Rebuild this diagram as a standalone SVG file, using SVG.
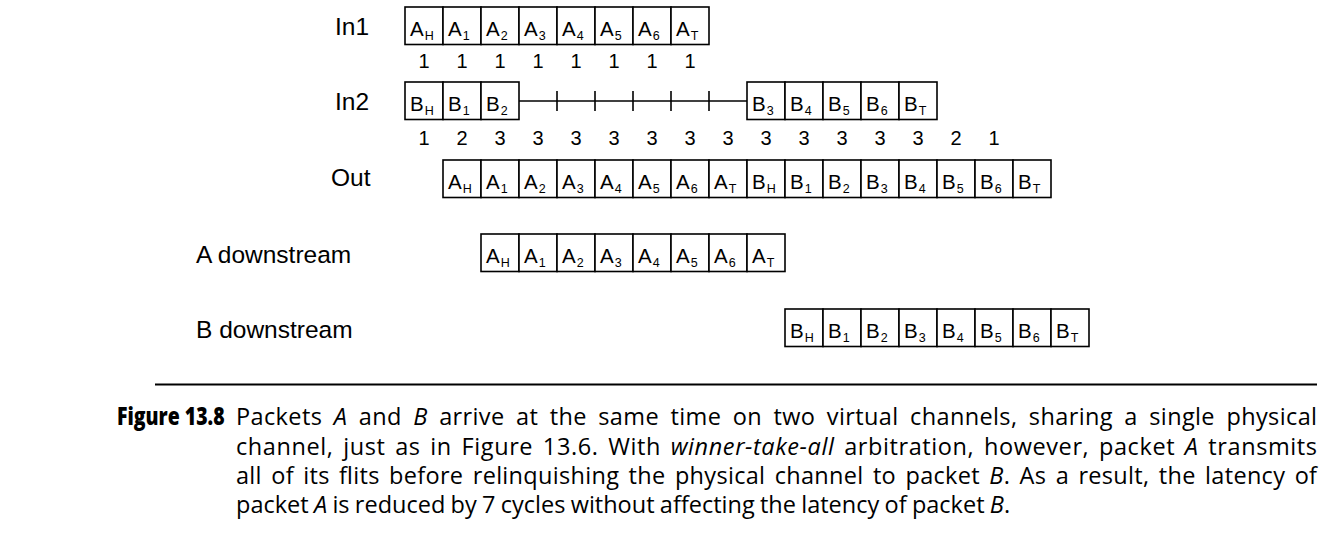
<svg xmlns="http://www.w3.org/2000/svg" width="1327" height="553" viewBox="0 0 1327 553">
<style>
.bg{fill:#fff}
.cell{fill:#fff;stroke:#000;stroke-width:1.6}
.ft{font-family:"Liberation Sans",Arial,sans-serif;font-size:20.5px;fill:#000}
.sub{font-size:12.5px}
.num{font-family:"Liberation Sans",Arial,sans-serif;font-size:20px;fill:#000;text-anchor:middle}
.lbl{font-family:"Liberation Sans",Arial,sans-serif;font-size:24.5px;fill:#000}
.conn{stroke:#000;stroke-width:1.6;fill:none}
.cap{font-family:"Open Sans","Noto Sans",sans-serif;font-size:23.5px;fill:#000}
.capb{font-family:"Open Sans","Noto Sans",sans-serif;font-size:24px;font-weight:800;fill:#000}
.it{font-style:italic}
</style>
<defs>
<rect id="c" class="cell" width="38" height="37.5"/>
</defs>
<rect class="bg" width="1327" height="553"/>

<g id="labels">
<text class="lbl" x="335" y="35">In1</text>
<text class="lbl" x="335" y="110">In2</text>
<text class="lbl" x="331" y="186">Out</text>
<text class="lbl" x="196" y="263">A downstream</text>
<text class="lbl" x="196" y="338">B downstream</text>
</g>

<g id="connectors">
<line class="conn" x1="519" y1="101" x2="747" y2="101"/>
<line class="conn" x1="557" y1="91" x2="557" y2="111"/>
<line class="conn" x1="595" y1="91" x2="595" y2="111"/>
<line class="conn" x1="633" y1="91" x2="633" y2="111"/>
<line class="conn" x1="671" y1="91" x2="671" y2="111"/>
<line class="conn" x1="709" y1="91" x2="709" y2="111"/>
</g>

<g id="in1">
<use href="#c" x="405" y="7"/><use href="#c" x="443" y="7"/><use href="#c" x="481" y="7"/><use href="#c" x="519" y="7"/>
<use href="#c" x="557" y="7"/><use href="#c" x="595" y="7"/><use href="#c" x="633" y="7"/><use href="#c" x="671" y="7"/>
<text class="ft" x="410" y="36">A<tspan class="sub" dx="1" dy="4">H</tspan></text>
<text class="ft" x="448" y="36">A<tspan class="sub" dx="1" dy="4">1</tspan></text>
<text class="ft" x="486" y="36">A<tspan class="sub" dx="1" dy="4">2</tspan></text>
<text class="ft" x="524" y="36">A<tspan class="sub" dx="1" dy="4">3</tspan></text>
<text class="ft" x="562" y="36">A<tspan class="sub" dx="1" dy="4">4</tspan></text>
<text class="ft" x="600" y="36">A<tspan class="sub" dx="1" dy="4">5</tspan></text>
<text class="ft" x="638" y="36">A<tspan class="sub" dx="1" dy="4">6</tspan></text>
<text class="ft" x="676" y="36">A<tspan class="sub" dx="1" dy="4">T</tspan></text>
</g>

<g id="in1-counts">
<text class="num" x="424" y="68">1</text><text class="num" x="462" y="68">1</text><text class="num" x="500" y="68">1</text><text class="num" x="538" y="68">1</text>
<text class="num" x="576" y="68">1</text><text class="num" x="614" y="68">1</text><text class="num" x="652" y="68">1</text><text class="num" x="690" y="68">1</text>
</g>

<g id="in2">
<use href="#c" x="405" y="82"/><use href="#c" x="443" y="82"/><use href="#c" x="481" y="82"/>
<use href="#c" x="747" y="82"/><use href="#c" x="785" y="82"/><use href="#c" x="823" y="82"/><use href="#c" x="861" y="82"/><use href="#c" x="899" y="82"/>
<text class="ft" x="410" y="111">B<tspan class="sub" dx="1" dy="4">H</tspan></text>
<text class="ft" x="448" y="111">B<tspan class="sub" dx="1" dy="4">1</tspan></text>
<text class="ft" x="486" y="111">B<tspan class="sub" dx="1" dy="4">2</tspan></text>
<text class="ft" x="752" y="111">B<tspan class="sub" dx="1" dy="4">3</tspan></text>
<text class="ft" x="790" y="111">B<tspan class="sub" dx="1" dy="4">4</tspan></text>
<text class="ft" x="828" y="111">B<tspan class="sub" dx="1" dy="4">5</tspan></text>
<text class="ft" x="866" y="111">B<tspan class="sub" dx="1" dy="4">6</tspan></text>
<text class="ft" x="904" y="111">B<tspan class="sub" dx="1" dy="4">T</tspan></text>
</g>

<g id="in2-counts">
<text class="num" x="424" y="145">1</text><text class="num" x="462" y="145">2</text><text class="num" x="500" y="145">3</text><text class="num" x="538" y="145">3</text>
<text class="num" x="576" y="145">3</text><text class="num" x="614" y="145">3</text><text class="num" x="652" y="145">3</text><text class="num" x="690" y="145">3</text>
<text class="num" x="728" y="145">3</text><text class="num" x="766" y="145">3</text><text class="num" x="804" y="145">3</text><text class="num" x="842" y="145">3</text>
<text class="num" x="880" y="145">3</text><text class="num" x="918" y="145">3</text><text class="num" x="956" y="145">2</text><text class="num" x="994" y="145">1</text>
</g>

<g id="out">
<use href="#c" x="443" y="160"/><use href="#c" x="481" y="160"/><use href="#c" x="519" y="160"/><use href="#c" x="557" y="160"/>
<use href="#c" x="595" y="160"/><use href="#c" x="633" y="160"/><use href="#c" x="671" y="160"/><use href="#c" x="709" y="160"/>
<use href="#c" x="747" y="160"/><use href="#c" x="785" y="160"/><use href="#c" x="823" y="160"/><use href="#c" x="861" y="160"/>
<use href="#c" x="899" y="160"/><use href="#c" x="937" y="160"/><use href="#c" x="975" y="160"/><use href="#c" x="1013" y="160"/>
<text class="ft" x="448" y="189">A<tspan class="sub" dx="1" dy="4">H</tspan></text>
<text class="ft" x="486" y="189">A<tspan class="sub" dx="1" dy="4">1</tspan></text>
<text class="ft" x="524" y="189">A<tspan class="sub" dx="1" dy="4">2</tspan></text>
<text class="ft" x="562" y="189">A<tspan class="sub" dx="1" dy="4">3</tspan></text>
<text class="ft" x="600" y="189">A<tspan class="sub" dx="1" dy="4">4</tspan></text>
<text class="ft" x="638" y="189">A<tspan class="sub" dx="1" dy="4">5</tspan></text>
<text class="ft" x="676" y="189">A<tspan class="sub" dx="1" dy="4">6</tspan></text>
<text class="ft" x="714" y="189">A<tspan class="sub" dx="1" dy="4">T</tspan></text>
<text class="ft" x="752" y="189">B<tspan class="sub" dx="1" dy="4">H</tspan></text>
<text class="ft" x="790" y="189">B<tspan class="sub" dx="1" dy="4">1</tspan></text>
<text class="ft" x="828" y="189">B<tspan class="sub" dx="1" dy="4">2</tspan></text>
<text class="ft" x="866" y="189">B<tspan class="sub" dx="1" dy="4">3</tspan></text>
<text class="ft" x="904" y="189">B<tspan class="sub" dx="1" dy="4">4</tspan></text>
<text class="ft" x="942" y="189">B<tspan class="sub" dx="1" dy="4">5</tspan></text>
<text class="ft" x="980" y="189">B<tspan class="sub" dx="1" dy="4">6</tspan></text>
<text class="ft" x="1018" y="189">B<tspan class="sub" dx="1" dy="4">T</tspan></text>
</g>

<g id="a-downstream">
<use href="#c" x="481" y="234"/><use href="#c" x="519" y="234"/><use href="#c" x="557" y="234"/><use href="#c" x="595" y="234"/>
<use href="#c" x="633" y="234"/><use href="#c" x="671" y="234"/><use href="#c" x="709" y="234"/><use href="#c" x="747" y="234"/>
<text class="ft" x="486" y="263">A<tspan class="sub" dx="1" dy="4">H</tspan></text>
<text class="ft" x="524" y="263">A<tspan class="sub" dx="1" dy="4">1</tspan></text>
<text class="ft" x="562" y="263">A<tspan class="sub" dx="1" dy="4">2</tspan></text>
<text class="ft" x="600" y="263">A<tspan class="sub" dx="1" dy="4">3</tspan></text>
<text class="ft" x="638" y="263">A<tspan class="sub" dx="1" dy="4">4</tspan></text>
<text class="ft" x="676" y="263">A<tspan class="sub" dx="1" dy="4">5</tspan></text>
<text class="ft" x="714" y="263">A<tspan class="sub" dx="1" dy="4">6</tspan></text>
<text class="ft" x="752" y="263">A<tspan class="sub" dx="1" dy="4">T</tspan></text>
</g>

<g id="b-downstream">
<use href="#c" x="785" y="309"/><use href="#c" x="823" y="309"/><use href="#c" x="861" y="309"/><use href="#c" x="899" y="309"/>
<use href="#c" x="937" y="309"/><use href="#c" x="975" y="309"/><use href="#c" x="1013" y="309"/><use href="#c" x="1051" y="309"/>
<text class="ft" x="790" y="338">B<tspan class="sub" dx="1" dy="4">H</tspan></text>
<text class="ft" x="828" y="338">B<tspan class="sub" dx="1" dy="4">1</tspan></text>
<text class="ft" x="866" y="338">B<tspan class="sub" dx="1" dy="4">2</tspan></text>
<text class="ft" x="904" y="338">B<tspan class="sub" dx="1" dy="4">3</tspan></text>
<text class="ft" x="942" y="338">B<tspan class="sub" dx="1" dy="4">4</tspan></text>
<text class="ft" x="980" y="338">B<tspan class="sub" dx="1" dy="4">5</tspan></text>
<text class="ft" x="1018" y="338">B<tspan class="sub" dx="1" dy="4">6</tspan></text>
<text class="ft" x="1056" y="338">B<tspan class="sub" dx="1" dy="4">T</tspan></text>
</g>

<g id="caption">
<line x1="155" y1="384.5" x2="1317" y2="384.5" stroke="#000" stroke-width="2"/>
<text class="capb" transform="translate(117,425) scale(0.81,1)">Figure 13.8</text>
<text class="cap" x="236" y="425" word-spacing="5" textLength="1081" lengthAdjust="spacing">Packets <tspan class="it">A</tspan> and <tspan class="it">B</tspan> arrive at the same time on two virtual channels, sharing a single physical</text>
<text class="cap" x="236" y="454.5" word-spacing="3" textLength="1081" lengthAdjust="spacing">channel, just as in Figure 13.6. With <tspan class="it">winner-take-all</tspan> arbitration, however, packet <tspan class="it">A</tspan> transmits</text>
<text class="cap" x="236" y="484" word-spacing="3" textLength="1081" lengthAdjust="spacing">all of its flits before relinquishing the physical channel to packet <tspan class="it">B</tspan>. As a result, the latency of</text>
<text class="cap" x="236" y="513" word-spacing="-0.8">packet <tspan class="it">A</tspan> is reduced by 7 cycles without affecting the latency of packet <tspan class="it">B</tspan>.</text>
</g>
</svg>
